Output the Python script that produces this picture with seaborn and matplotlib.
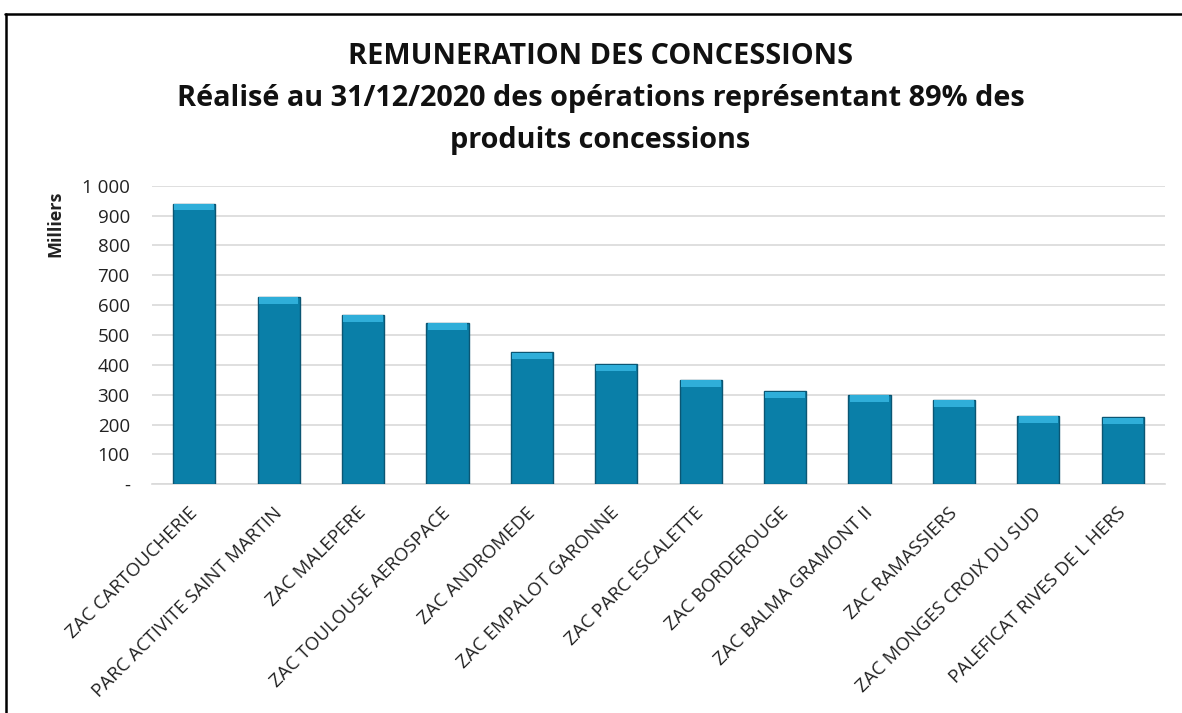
import matplotlib
matplotlib.use("Agg")
import matplotlib.pyplot as plt
import matplotlib.transforms as mtransforms
import seaborn as sns
import pandas as pd
import numpy as np
from matplotlib.lines import Line2D
from matplotlib.ticker import FixedLocator

categories = [
    "ZAC CARTOUCHERIE", "PARC ACTIVITE SAINT MARTIN", "ZAC MALEPERE",
    "ZAC TOULOUSE AEROSPACE", "ZAC ANDROMEDE", "ZAC EMPALOT GARONNE",
    "ZAC PARC ESCALETTE", "ZAC BORDEROUGE", "ZAC BALMA GRAMONT II",
    "ZAC RAMASSIERS", "ZAC MONGES CROIX DU SUD", "PALEFICAT RIVES DE L HERS",
]
values = [940, 627, 568, 541, 442, 402, 349, 311, 300, 283, 229, 224]
yticks = [0, 100, 200, 300, 400, 500, 600, 700, 800, 900, 1000]
ytick_labels = ["-", "100", "200", "300", "400", "500", "600", "700", "800", "900", "1 000"]

title = ("REMUNERATION DES CONCESSIONS\n"
         "Réalisé au 31/12/2020 des opérations représentant 89% des\n"
         "produits concessions")

df = pd.DataFrame({"cat": categories, "val": values})

sns.set_theme(style="white")
plt.rcParams["font.family"] = ["Open Sans", "DejaVu Sans"]

fig = plt.figure(figsize=(11.82, 7.13), dpi=100)
ax = fig.add_axes([0.1286, 0.3208, 0.8570, 0.4188])

sns.barplot(data=df, x="cat", y="val", ax=ax, color="#0A7FA8", width=0.5,
            saturation=1, edgecolor="#0B5673", linewidth=1.0, zorder=3)

# light bevel band on the top of each bar
cap = 22
ax.bar(np.arange(len(values)), [cap] * len(values),
       bottom=np.array(values) - cap - 1, width=0.47, color="#2FAED9",
       edgecolor="none", zorder=4)

ax.set_ylim(0, 1000)
ax.set_xlim(-0.5, len(values) - 0.5)
ax.yaxis.set_major_locator(FixedLocator(yticks))
ax.set_yticklabels(ytick_labels, fontsize=13.5, color="#222222")
ax.yaxis.grid(True, color="#D9D9D9", linewidth=1.2, zorder=0)
ax.set_axisbelow(True)
for s in ["top", "right", "left"]:
    ax.spines[s].set_visible(False)
ax.spines["bottom"].set_color("#D9D9D9")
ax.spines["bottom"].set_linewidth(1.2)
ax.tick_params(axis="y", length=0, pad=16)
ax.tick_params(axis="x", length=0, pad=14)
ax.set_xticks(np.arange(len(categories)))
ax.set_xticklabels(categories, rotation=45, ha="right", rotation_mode="anchor",
                   fontsize=13.5, color="#222222")
shift = mtransforms.ScaledTranslation(-6 / 100, 0, fig.dpi_scale_trans)
for lab in ax.get_xticklabels():
    lab.set_transform(lab.get_transform() + shift)
ax.set_xlabel("")
ax.set_ylabel("Milliers", fontsize=13, fontweight="bold", color="#222222")
ax.yaxis.set_label_coords(-0.087, 0.872)

fig.text(0.508, 0.862, title, ha="center", va="center", fontsize=20.8,
         fontweight="bold", color="#111111", linespacing=1.6)

# outer frame (partially visible)
fig.add_artist(Line2D([5 / 1182, 1.0], [1 - 13.5 / 713, 1 - 13.5 / 713],
                      transform=fig.transFigure, color="black", linewidth=1.8))
fig.add_artist(Line2D([5.5 / 1182, 5.5 / 1182], [0, 1 - 13.5 / 713],
                      transform=fig.transFigure, color="black", linewidth=1.8))

fig.savefig("out.png", dpi=100)
